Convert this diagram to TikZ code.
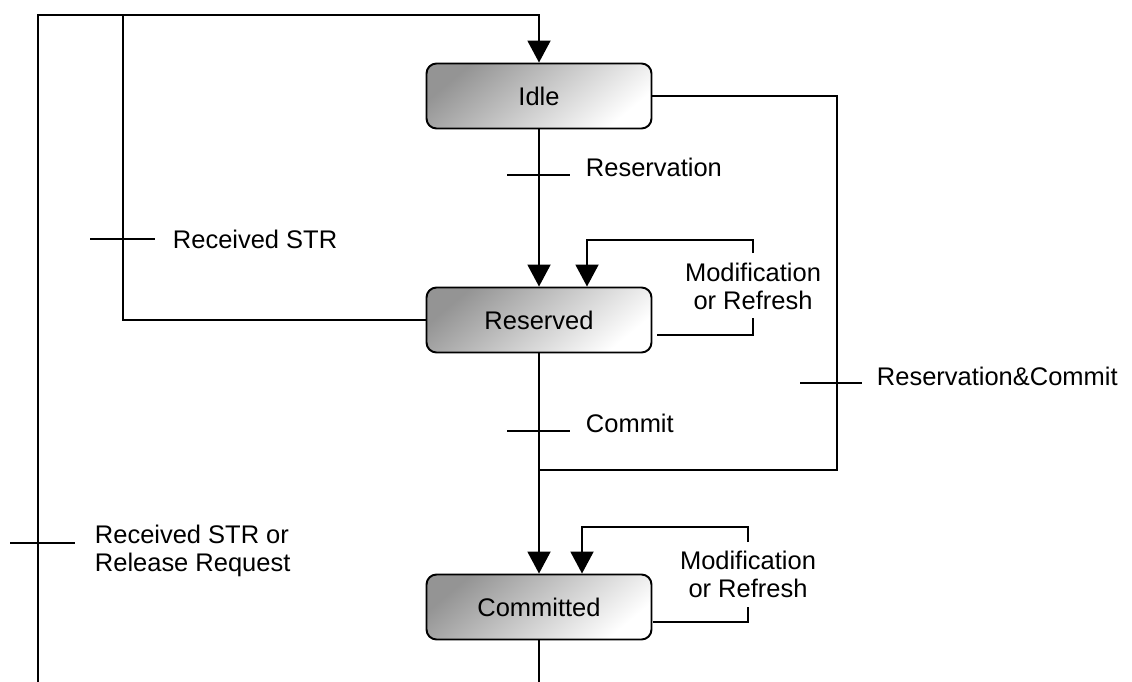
\documentclass[tikz,border=0pt]{standalone}
\usepackage{fontspec}
\setmainfont{Liberation Sans}
\usetikzlibrary{arrows.meta,positioning,calc}

\begin{document}
\begin{tikzpicture}[x=0.02cm,y=-0.02cm,line width=1.1pt,
    state/.style={draw,rounded corners=0.2cm,minimum width=4.5cm,minimum height=1.3cm,
        top color=black!42,bottom color=white,shading angle=40,
        font=\fontsize{14.5}{16}\selectfont},
    arr/.style={-{Triangle[length=0.44cm,width=0.46cm]}},
    lbl/.style={inner sep=0pt,font=\fontsize{14.5}{16}\selectfont}]
    \useasboundingbox (0,0) rectangle (1132,682);

    % States
    \node[state] (idle) at (539,96) {Idle};
    \node[state] (reserved) at (539,320) {Reserved};
    \node[state] (committed) at (539,607) {Committed};

    % Helper points
    \coordinate (lbot) at (38,682);
    \coordinate (top) at (539,15);
    \coordinate (jstr) at (123,15);
    \coordinate (rc) at (837,470);
    \coordinate (merge) at (539,470);
    \coordinate (cbot) at (539,682);

    % Transitions
    \draw[arr] (lbot) |- (top) -- (idle.north);
    \draw (reserved.west) -| (jstr);
    \draw[arr] (idle) -- (reserved);
    \draw[arr] (reserved) -- (committed);
    \draw (idle.east) -| (rc) -- (merge);
    \draw (committed) -- (cbot);

    % Self loop on Reserved
    \draw ($(reserved.east)+(5,15)$) -- (753,335) -- (753,318);
    \draw[arr] (753,253) |- (587,240) -- ($(reserved.north)+(48,0)$);

    % Self loop on Committed
    \draw ($(committed.east)+(1,15)$) -- (748,622) -- (748,607);
    \draw[arr] (748,542) |- (582,527) -- ($(committed.north)+(43,0)$);

    % Ticks
    \draw (507,175) -- (570,175);
    \draw (90,239) -- (155,239);
    \draw (800,383) -- (862,383);
    \draw (507,431) -- (570,431);
    \draw (10,543) -- (75,543);

    % Labels
    \node[lbl,anchor=west] (lres) at (585,167) {Reservation};
    \node[lbl,anchor=west] (lstr) at (172,239) {Received STR};
    \node[lbl,align=center] (lmod1) at (753,286) {Modification\\or Refresh};
    \node[lbl,anchor=west] (lrc) at (876,376) {Reservation\&Commit};
    \node[lbl,anchor=west] (lcom) at (585,423) {Commit};
    \node[lbl,anchor=west,align=left] (lrel) at (94,551) {Received STR or\\Release Request};
    \node[lbl,align=center] (lmod2) at (748,574) {Modification\\or Refresh};
\end{tikzpicture}
\end{document}
